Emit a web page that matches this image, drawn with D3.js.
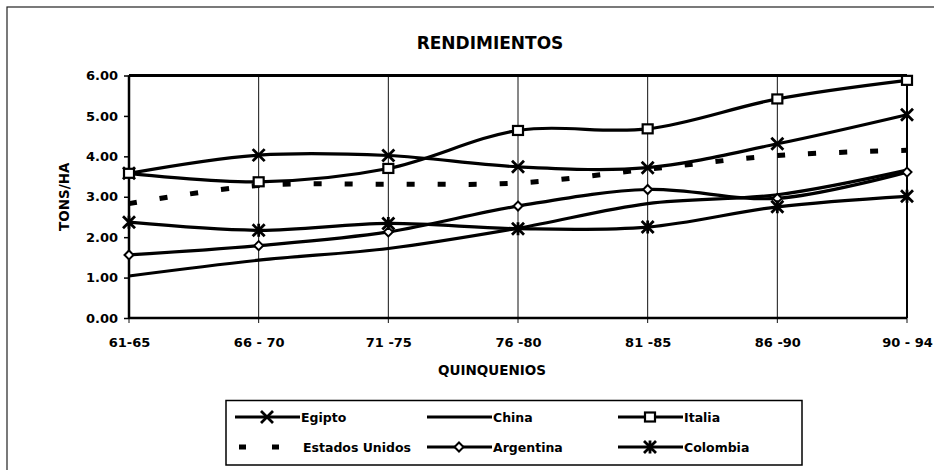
<html>
<head>
<style>
body { margin: 0; background: #fff; }
text { font-family: "DejaVu Sans", "Liberation Sans", Arial, sans-serif; font-weight: bold; fill: #000; }
.frame { fill: none; stroke: #222; stroke-width: 1.2px; }
.grid { stroke: #111; stroke-width: 1px; }
.axis-line { stroke: #000; stroke-width: 2.5px; }
.serie { fill: none; stroke: #000; stroke-width: 3.2px; }
.dotted { stroke-width: 5px; stroke-dasharray: 8, 23; }
.mk { stroke: #000; stroke-width: 2.2px; fill: #fff; }
</style>
</head>
<body>
<script src="https://d3js.org/d3.v7.min.js"></script>
<script>

var quinquenios = ["61-65", "66 - 70", "71 -75", "76 -80", "81 -85", "86 -90", "90 - 94"];
var yTicks = [0, 1, 2, 3, 4, 5, 6];

var egipto    = [3.58, 4.03, 4.02, 3.74, 3.72, 4.31, 5.03];
var china     = [1.04, 1.43, 1.72, 2.22, 2.83, 3.05, 3.66];
var italia    = [3.58, 3.37, 3.70, 4.64, 4.68, 5.42, 5.88];
var eeuu      = [2.83, 3.28, 3.31, 3.34, 3.68, 4.02, 4.15];
var argentina = [1.56, 1.79, 2.13, 2.77, 3.18, 2.96, 3.61];
var colombia  = [2.37, 2.17, 2.34, 2.21, 2.25, 2.75, 3.01];

var series = [
	{name: "Egipto", values: egipto, marker: "x"},
	{name: "China", values: china, marker: "none"},
	{name: "Italia", values: italia, marker: "square"},
	{name: "Estados Unidos", values: eeuu, marker: "dots"},
	{name: "Argentina", values: argentina, marker: "diamond"},
	{name: "Colombia", values: colombia, marker: "star"}
];

var W = 934, H = 470;
var plotLeft = 129, plotRight = 907, plotTop = 75.5, plotBottom = 318;

var svg = d3.select("body").append("svg")
	.attr("width", W)
	.attr("height", H);

svg.append("rect").attr("x", 0).attr("y", 0).attr("width", W).attr("height", H).attr("fill", "#fff");
// outer chart border (cut at right / bottom like the scan)
svg.append("rect").attr("class", "frame")
	.attr("x", 7).attr("y", 7).attr("width", W).attr("height", H);

var x = d3.scalePoint().domain(quinquenios).range([plotLeft, plotRight]);
var y = d3.scaleLinear().domain([0, 6]).range([plotBottom, plotTop]);

svg.append("text")
	.attr("x", 490).attr("y", 49)
	.attr("text-anchor", "middle")
	.style("font-size", "17px")
	.text("RENDIMIENTOS");

// vertical gridlines at each category
svg.append("g").selectAll("line")
	.data(quinquenios)
	.enter().append("line")
	.attr("class", "grid")
	.attr("x1", function(d) { return x(d); })
	.attr("x2", function(d) { return x(d); })
	.attr("y1", plotTop)
	.attr("y2", plotBottom + 5);

// y axis
var yAxis = d3.axisLeft(y).tickValues(yTicks).tickSize(5).tickPadding(6)
	.tickFormat(d3.format(".2f"));
var gy = svg.append("g").attr("transform", "translate(" + plotLeft + ",0)").call(yAxis);
gy.select(".domain").remove();
gy.selectAll(".tick line").attr("stroke", "#000").attr("stroke-width", 1.5);
gy.selectAll(".tick text").style("font-size", "13px").attr("font-family", null);

// x axis labels
var xAxis = d3.axisBottom(x).tickSize(0).tickPadding(20);
var gx = svg.append("g").attr("transform", "translate(0," + plotBottom + ")").call(xAxis);
gx.select(".domain").remove();
gx.selectAll(".tick text").style("font-size", "13px").attr("font-family", null);

// plot frame
svg.append("line").attr("class", "axis-line").attr("x1", plotLeft).attr("x2", plotRight).attr("y1", plotTop).attr("y2", plotTop).style("stroke-width", "3px");
svg.append("line").attr("class", "axis-line").attr("x1", plotLeft).attr("x2", plotRight).attr("y1", plotBottom).attr("y2", plotBottom);
svg.append("line").attr("class", "axis-line").attr("x1", plotLeft).attr("x2", plotLeft).attr("y1", plotTop).attr("y2", plotBottom);
svg.append("line").attr("class", "axis-line").attr("x1", plotRight).attr("x2", plotRight).attr("y1", plotTop).attr("y2", plotBottom).style("stroke-width", "2px");

svg.append("text")
	.attr("transform", "translate(69," + ((plotTop + plotBottom) / 2) + ") rotate(-90)")
	.attr("text-anchor", "middle")
	.style("font-size", "13.5px")
	.text("TONS/HA");

svg.append("text")
	.attr("x", 492).attr("y", 375)
	.attr("text-anchor", "middle")
	.style("font-size", "13.5px")
	.text("QUINQUENIOS");

var line = d3.line()
	.x(function(d, i) { return x(quinquenios[i]); })
	.y(function(d) { return y(d); })
	.curve(d3.curveCatmullRom.alpha(0.5));

var plot = svg.append("g");

series.forEach(function(s) {
	plot.append("path")
		.attr("d", line(s.values))
		.attr("class", s.marker === "dots" ? "serie dotted" : "serie");
});

function drawMarker(g, type, cx, cy) {
	var r = 6;
	if (type === "x") {
		g.append("path").attr("class", "mk").style("stroke-width", "2.8px")
			.attr("d", "M" + (cx - r) + "," + (cy - r) + "L" + (cx + r) + "," + (cy + r) +
				"M" + (cx - r) + "," + (cy + r) + "L" + (cx + r) + "," + (cy - r));
	} else if (type === "star") {
		g.append("path").attr("class", "mk").style("stroke-width", "2.8px")
			.attr("d", "M" + (cx - r) + "," + (cy - r) + "L" + (cx + r) + "," + (cy + r) +
				"M" + (cx - r) + "," + (cy + r) + "L" + (cx + r) + "," + (cy - r) +
				"M" + cx + "," + (cy - r - 0.5) + "L" + cx + "," + (cy + r + 0.5));
	} else if (type === "square") {
		g.append("rect").attr("class", "mk")
			.attr("x", cx - 5).attr("y", cy - 4.5).attr("width", 10).attr("height", 9);
	} else if (type === "diamond") {
		g.append("path").attr("class", "mk").style("stroke-width", "2px")
			.attr("d", "M" + cx + "," + (cy - 4.5) + "L" + (cx + 4.5) + "," + cy + "L" + cx + "," + (cy + 4.5) + "L" + (cx - 4.5) + "," + cy + "Z");
	}
}

series.forEach(function(s) {
	if (s.marker === "none" || s.marker === "dots") return;
	s.values.forEach(function(v, i) {
		drawMarker(plot, s.marker, x(quinquenios[i]), y(v));
	});
});

// legend
var legend = svg.append("g");
legend.append("rect")
	.attr("x", 226).attr("y", 400.5).attr("width", 576).attr("height", 64.5)
	.attr("fill", "none").attr("stroke", "#000").attr("stroke-width", 1.5);

var legX = [235, 427, 618];
var legY = [417, 447];

series.forEach(function(s, i) {
	var lx = legX[i % 3], ly = legY[Math.floor(i / 3)];
	if (s.marker === "dots") {
		legend.append("line").attr("class", "serie dotted")
			.attr("x1", lx + 4).attr("x2", lx + 64).attr("y1", ly).attr("y2", ly)
			.style("stroke-dasharray", "7, 26");
	} else {
		legend.append("line").attr("class", "serie")
			.attr("x1", lx).attr("x2", lx + 65).attr("y1", ly).attr("y2", ly);
		drawMarker(legend, s.marker, lx + 32, ly);
	}
	legend.append("text")
		.attr("x", s.marker === "dots" ? lx + 68 : lx + 66)
		.attr("y", ly + 4.5)
		.style("font-size", "12.5px")
		.text(s.name);
});

</script>
</body>
</html>
